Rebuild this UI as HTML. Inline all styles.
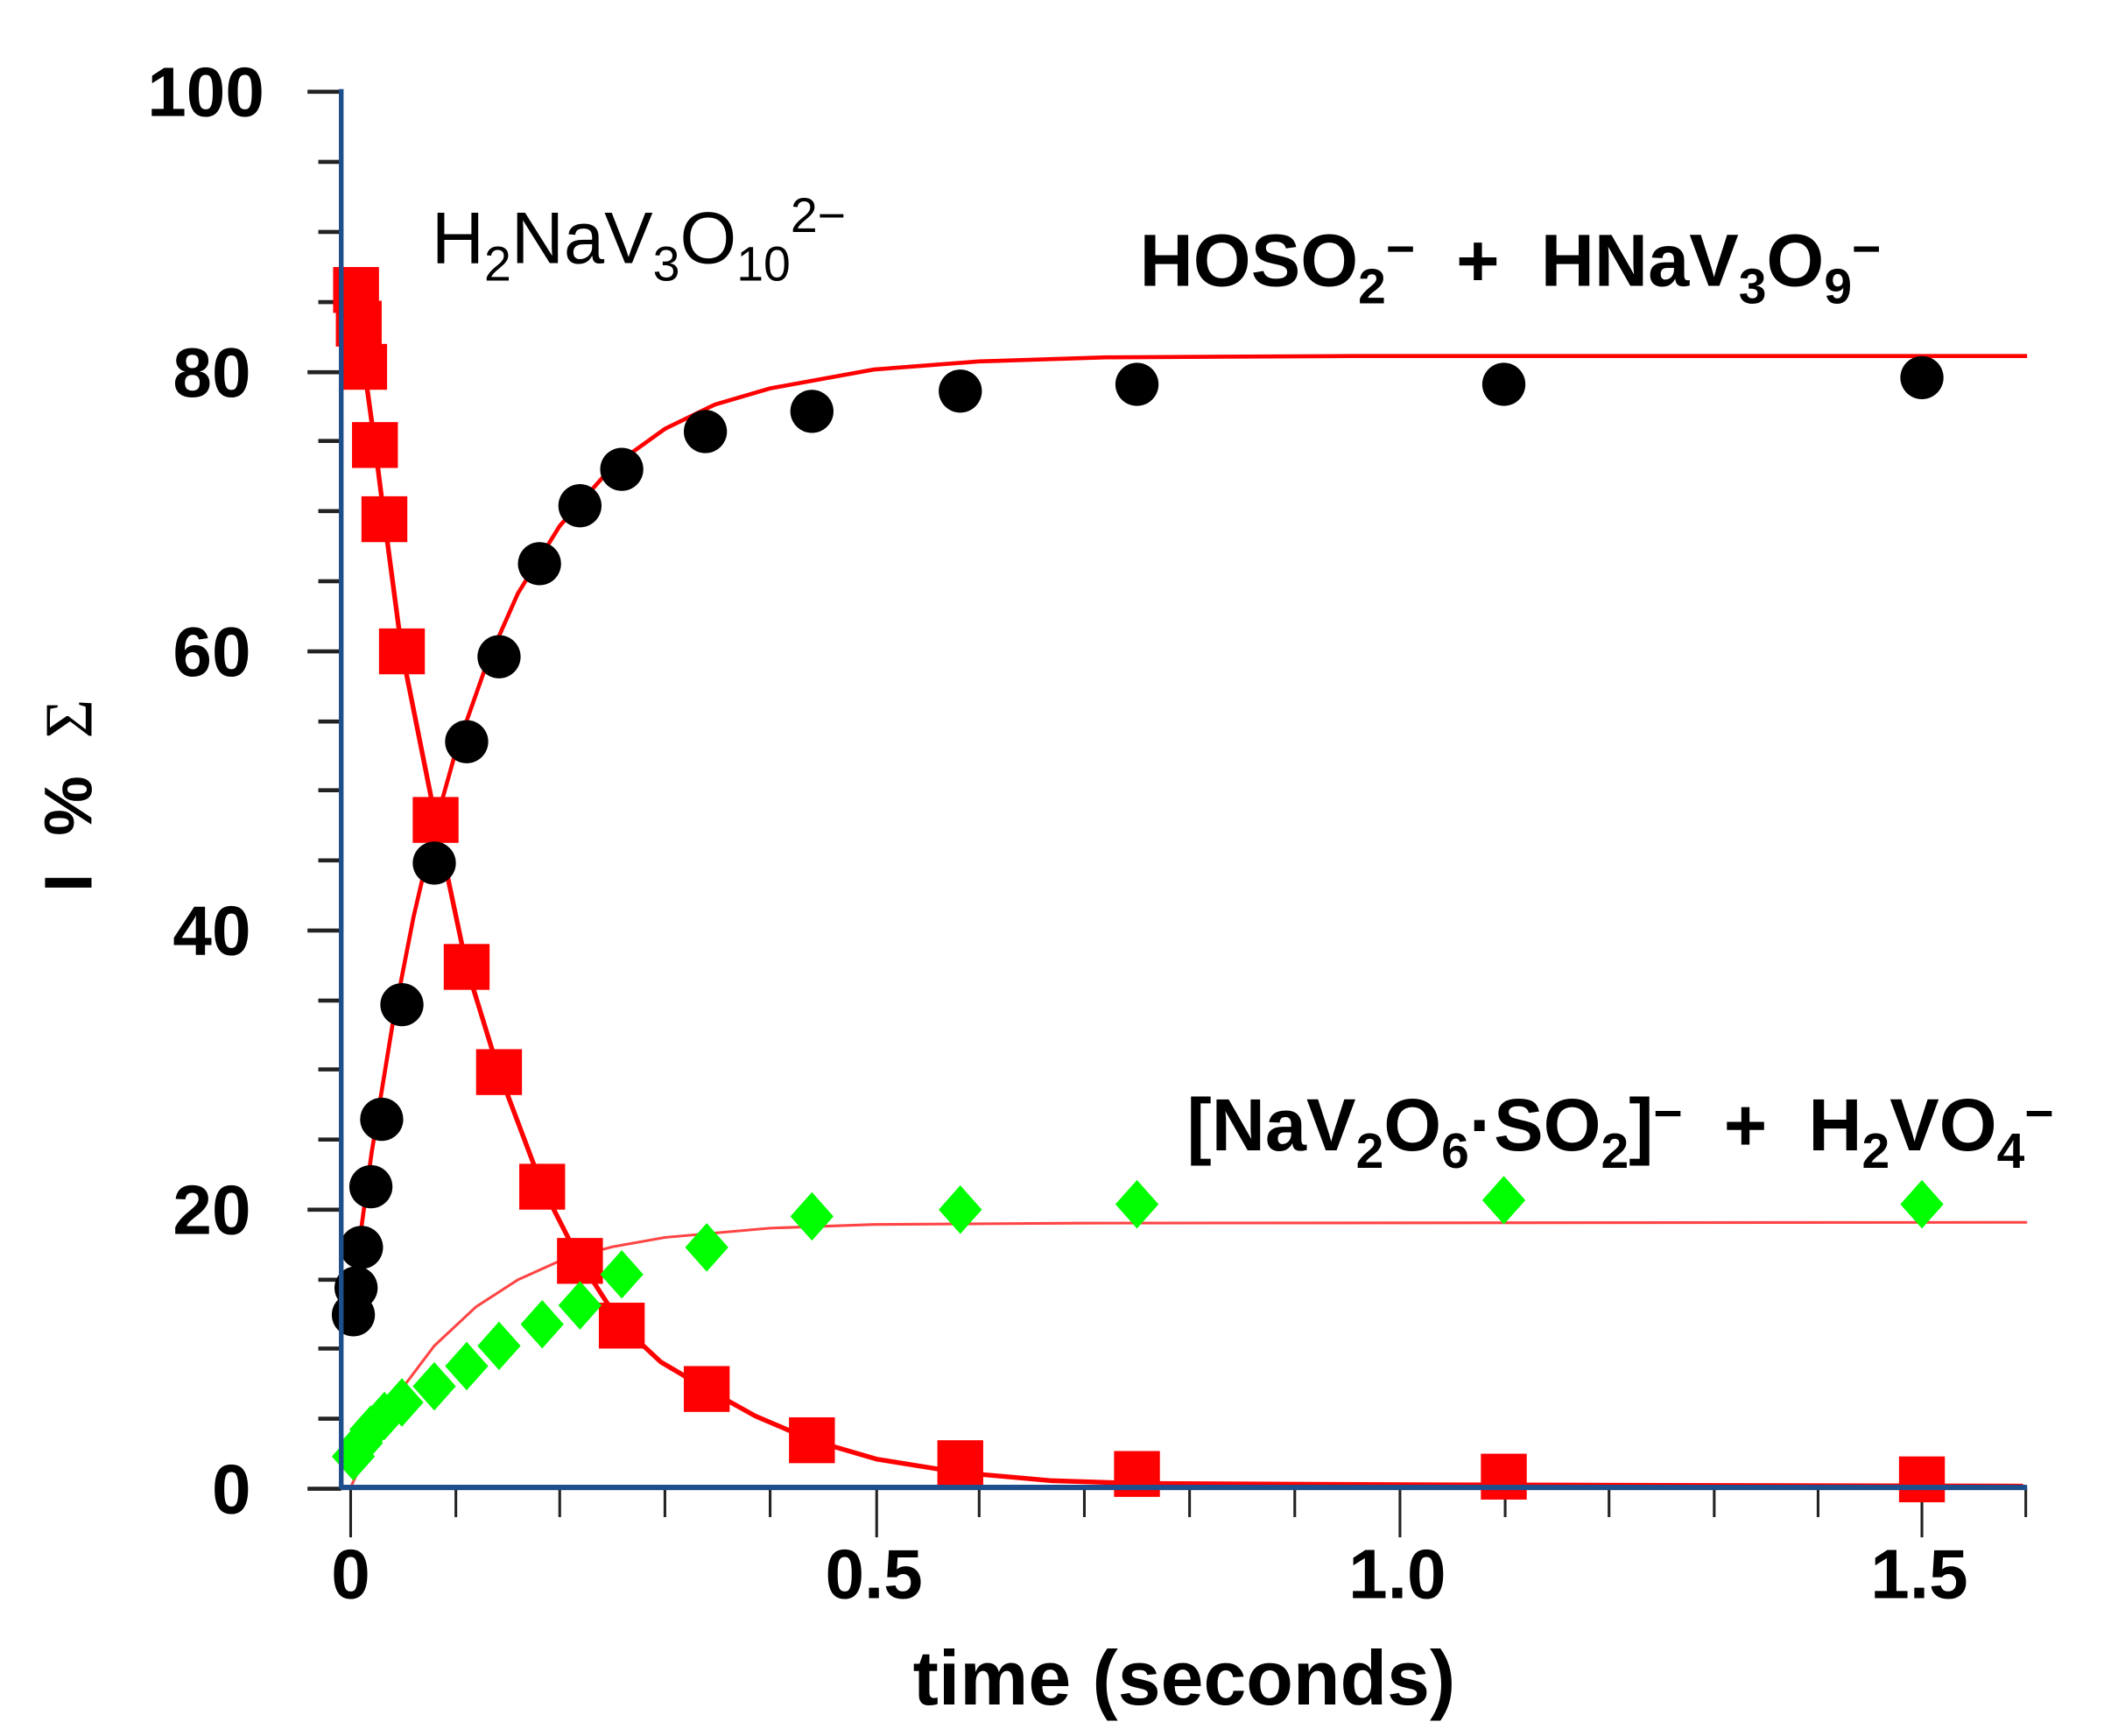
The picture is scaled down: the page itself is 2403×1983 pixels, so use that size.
<!DOCTYPE html>
<html><head><meta charset="utf-8"><style>
html,body{margin:0;padding:0;background:#fff;}
svg{display:block;}
text{font-family:"Liberation Sans",Arial,sans-serif;font-weight:bold;fill:#000;}
</style></head><body>
<svg width="2403" height="1983" viewBox="0 0 1560 1287.3" xmlns="http://www.w3.org/2000/svg">
<rect width="1560" height="1287.3" fill="#fff"/>
<g stroke="#222" stroke-width="3">
<line x1="228" y1="68" x2="253" y2="68"/><line x1="236" y1="120" x2="253" y2="120"/><line x1="236" y1="172" x2="253" y2="172"/><line x1="236" y1="224" x2="253" y2="224"/>
<line x1="228" y1="276" x2="253" y2="276"/><line x1="236" y1="327" x2="253" y2="327"/><line x1="236" y1="379" x2="253" y2="379"/><line x1="236" y1="431" x2="253" y2="431"/>
<line x1="228" y1="483" x2="253" y2="483"/><line x1="236" y1="535" x2="253" y2="535"/><line x1="236" y1="586" x2="253" y2="586"/><line x1="236" y1="638" x2="253" y2="638"/>
<line x1="228" y1="690" x2="253" y2="690"/><line x1="236" y1="742" x2="253" y2="742"/><line x1="236" y1="793" x2="253" y2="793"/><line x1="236" y1="845" x2="253" y2="845"/>
<line x1="228" y1="897" x2="253" y2="897"/><line x1="236" y1="949" x2="253" y2="949"/><line x1="236" y1="1000" x2="253" y2="1000"/><line x1="236" y1="1052" x2="253" y2="1052"/>
<line x1="228" y1="1104" x2="253" y2="1104"/>
</g>
<g stroke="#222" stroke-width="2">
<line x1="260" y1="1103" x2="260" y2="1140"/><line x1="338" y1="1103" x2="338" y2="1125"/><line x1="415" y1="1103" x2="415" y2="1125"/><line x1="493" y1="1103" x2="493" y2="1125"/><line x1="571" y1="1103" x2="571" y2="1125"/>
<line x1="650" y1="1103" x2="650" y2="1140"/><line x1="726" y1="1103" x2="726" y2="1125"/><line x1="804" y1="1103" x2="804" y2="1125"/><line x1="882" y1="1103" x2="882" y2="1125"/><line x1="960" y1="1103" x2="960" y2="1125"/>
<line x1="1038" y1="1103" x2="1038" y2="1140"/><line x1="1116" y1="1103" x2="1116" y2="1125"/><line x1="1193" y1="1103" x2="1193" y2="1125"/><line x1="1271" y1="1103" x2="1271" y2="1125"/><line x1="1348" y1="1103" x2="1348" y2="1125"/>
<line x1="1425" y1="1103" x2="1425" y2="1140"/><line x1="1502" y1="1103" x2="1502" y2="1125"/>
</g>
<path d="M260,968.5 L275.5,855 L291,760 L306.6,680 L322,614 L337.7,558 L361,492 L384,440 L415,390 L454,346 L493,318 L530,300 L571,288 L648,274 L726,268 L820,265 L1000,264 L1503,264" fill="none" stroke="#f00" stroke-width="3"/>
<path d="M260,1103 L275.5,1069 L299,1028.5 L322,998 L353,969 L384,949 L415,935 L454,924.6 L493,917.6 L571,910.7 L648,908 L800,907 L1503,906.4" fill="none" stroke="#f44" stroke-width="2"/>
<path d="M264,215 L266,240 L270,272 L278,330 L285,385 L298,483 L323,608 L346,717 L370,795 L402,880 L430,935 L461,983 L490,1010 L524,1030 L560,1050 L602,1068 L650,1082 L712,1092 L780,1098 L843,1100 L1050,1101 L1500,1102" fill="none" stroke="#f00" stroke-width="3.5"/>
<g fill="#f00">
<rect x="247" y="198" width="34" height="34"/><rect x="249" y="223" width="34" height="34"/><rect x="253" y="255" width="34" height="34"/><rect x="261" y="313" width="34" height="34"/><rect x="268" y="368" width="34" height="34"/><rect x="281" y="466" width="34" height="34"/><rect x="306" y="591" width="34" height="34"/><rect x="329" y="700" width="34" height="34"/><rect x="353" y="778" width="34" height="34"/><rect x="385" y="863" width="34" height="34"/><rect x="413" y="918" width="34" height="34"/><rect x="444" y="966" width="34" height="34"/><rect x="507" y="1013" width="34" height="34"/><rect x="585" y="1051" width="34" height="34"/><rect x="695" y="1068" width="34" height="34"/><rect x="826" y="1076" width="34" height="34"/><rect x="1098" y="1078" width="34" height="34"/><rect x="1408" y="1080" width="34" height="34"/>
</g>
<g fill="#000">
<circle cx="262" cy="975" r="16"/><circle cx="264" cy="955" r="16"/><circle cx="268" cy="925" r="16"/><circle cx="275" cy="880" r="16"/><circle cx="283" cy="830" r="16"/><circle cx="298" cy="745" r="16"/><circle cx="322" cy="640" r="16"/><circle cx="346" cy="550" r="16"/><circle cx="370" cy="487" r="16"/><circle cx="400" cy="418" r="16"/><circle cx="430" cy="375" r="16"/><circle cx="461" cy="348" r="16"/><circle cx="523" cy="320" r="16"/><circle cx="602" cy="305" r="16"/><circle cx="712" cy="290" r="16"/><circle cx="843" cy="285" r="16"/><circle cx="1115" cy="285" r="16"/><circle cx="1425" cy="280" r="16"/>
</g>
<g fill="#0f0">
<path d="M262,1062 l16,18 l-16,18 l-16,-18z"/><path d="M268,1052 l16,18 l-16,18 l-16,-18z"/><path d="M275,1042 l16,18 l-16,18 l-16,-18z"/><path d="M285,1032 l16,18 l-16,18 l-16,-18z"/><path d="M298,1022 l16,18 l-16,18 l-16,-18z"/><path d="M322,1010 l16,18 l-16,18 l-16,-18z"/><path d="M346,995 l16,18 l-16,18 l-16,-18z"/><path d="M370,980 l16,18 l-16,18 l-16,-18z"/><path d="M402,964 l16,18 l-16,18 l-16,-18z"/><path d="M430,950 l16,18 l-16,18 l-16,-18z"/><path d="M461,927 l16,18 l-16,18 l-16,-18z"/><path d="M524,907 l16,18 l-16,18 l-16,-18z"/><path d="M602,884 l16,18 l-16,18 l-16,-18z"/><path d="M712,879 l16,18 l-16,18 l-16,-18z"/><path d="M843,875 l16,18 l-16,18 l-16,-18z"/><path d="M1115,872 l16,18 l-16,18 l-16,-18z"/><path d="M1425,875 l16,18 l-16,18 l-16,-18z"/>
</g>
<line x1="253" y1="66" x2="253" y2="1104" stroke="#1f4e8c" stroke-width="3.5"/>
<line x1="253" y1="1103" x2="1503" y2="1103" stroke="#1f4e8c" stroke-width="4"/>
<g font-size="52" text-anchor="end">
<text x="196" y="86">100</text><text x="186" y="294">80</text><text x="186" y="501">60</text><text x="186" y="708">40</text><text x="186" y="915">20</text><text x="186" y="1122">0</text>
</g>
<g font-size="52" text-anchor="middle">
<text x="260" y="1185">0</text><text x="648" y="1185">0.5</text><text x="1036" y="1185">1.0</text><text x="1423" y="1185">1.5</text>
</g>
<text x="878" y="1264" font-size="57" text-anchor="middle">time (seconds)</text>
<text transform="translate(68,590) rotate(-90)" font-size="50" text-anchor="middle" xml:space="preserve">I  %  <tspan font-family="Liberation Serif" font-weight="normal">&#931;</tspan></text>
<text x="320" y="195" font-size="54" style="font-weight:normal">H<tspan font-size="36" dy="13">2</tspan><tspan dy="-13">NaV</tspan><tspan font-size="36" dy="13">3</tspan><tspan dy="-13">O</tspan><tspan font-size="36" dy="13">10</tspan><tspan font-size="36" dy="-36">2&#8722;</tspan></text>
<text x="845" y="212" font-size="55" xml:space="preserve">HOSO<tspan font-size="37" dy="13">2</tspan><tspan font-size="37" dy="-28">&#8722;</tspan><tspan dy="15">  +  HNaV</tspan><tspan font-size="37" dy="13">3</tspan><tspan dy="-13">O</tspan><tspan font-size="37" dy="13">9</tspan><tspan font-size="37" dy="-28">&#8722;</tspan></text>
<text x="880" y="853" font-size="55" xml:space="preserve">[NaV<tspan font-size="37" dy="13">2</tspan><tspan dy="-13">O</tspan><tspan font-size="37" dy="13">6</tspan><tspan dy="-13">&#183;SO</tspan><tspan font-size="37" dy="13">2</tspan><tspan dy="-13">]</tspan><tspan font-size="37" dy="-15">&#8722;</tspan><tspan dy="15">  +  H</tspan><tspan font-size="37" dy="13">2</tspan><tspan dy="-13">VO</tspan><tspan font-size="37" dy="13">4</tspan><tspan font-size="37" dy="-28">&#8722;</tspan></text>
</svg>
</body></html>
